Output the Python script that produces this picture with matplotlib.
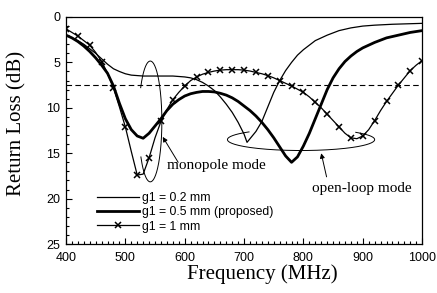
import numpy as np
import matplotlib
matplotlib.use("Agg")
import matplotlib.pyplot as plt

# Return loss curves (MHz, dB)
freq_a = [400, 410, 420, 430, 440, 450, 460, 470, 480, 490, 500, 510, 520, 530,
          540, 560, 580, 600, 610, 620, 630, 640, 650, 660, 670, 680, 690, 700,
          705, 710, 720, 730, 740, 750, 760, 770, 780, 790, 800, 820, 840, 860,
          880, 900, 920, 950, 1000]
rl_a = [2.0, 2.3, 2.6, 3.0, 3.5, 4.0, 4.6, 5.2, 5.7, 6.0, 6.25, 6.4, 6.45, 6.5,
        6.5, 6.5, 6.5, 6.6, 6.7, 6.9, 7.2, 7.6, 8.1, 8.8, 9.6, 10.5, 11.6, 12.9,
        13.8, 13.4, 12.6, 11.5, 9.9, 8.3, 7.0, 5.9, 5.0, 4.2, 3.6, 2.6, 2.0, 1.5,
        1.2, 1.0, 0.9, 0.8, 0.7]

freq_b = [400, 410, 420, 430, 440, 450, 460, 470, 480, 490, 500, 510, 520, 530,
          540, 550, 560, 570, 580, 590, 600, 610, 620, 630, 640, 650, 660, 670,
          680, 690, 700, 710, 720, 730, 740, 750, 760, 770, 780, 790, 800, 810,
          820, 830, 840, 850, 860, 870, 880, 890, 900, 920, 940, 960, 980, 1000]
rl_b = [2.0, 2.3, 2.7, 3.2, 3.8, 4.5, 5.3, 6.2, 7.6, 9.5, 11.2, 12.4, 13.1, 13.35,
        12.8, 12.0, 11.2, 10.3, 9.6, 9.1, 8.7, 8.45, 8.3, 8.2, 8.2, 8.25, 8.4, 8.6,
        8.9, 9.3, 9.8, 10.3, 10.9, 11.6, 12.4, 13.3, 14.3, 15.3, 16.0, 15.4, 14.2, 12.8,
        11.2, 9.6, 8.0, 6.7, 5.7, 4.9, 4.3, 3.8, 3.4, 2.8, 2.3, 2.0, 1.7, 1.5]

freq_c = list(range(400, 1001, 10))
rl_c = [1.3, 1.7, 2.1, 2.6, 3.1, 3.9, 4.9, 6.2, 7.8, 9.9, 12.1, 14.8, 17.4, 17.3,
        15.5, 13.3, 11.5, 10.2, 9.1, 8.3, 7.6, 7.0, 6.6, 6.3, 6.1, 5.95, 5.85, 5.8,
        5.8, 5.8, 5.85, 5.95, 6.1, 6.25, 6.45, 6.7, 7.0, 7.3, 7.6, 7.95, 8.3, 8.8,
        9.4, 10.0, 10.7, 11.4, 12.1, 12.8, 13.3, 13.4, 13.1, 12.4, 11.4, 10.3, 9.3,
        8.4, 7.5, 6.7, 5.9, 5.3, 4.8]

labels = ["g1 = 0.2 mm", "g1 = 0.5 mm (proposed)", "g1 = 1 mm"]

serif = "Liberation Serif"
sans = "Liberation Sans"

fig = plt.figure(figsize=(4.37, 2.93), dpi=100)
ax = fig.add_axes([0.151, 0.167, 0.815, 0.775])

ax.plot(freq_a, rl_a, color="k", lw=0.9, label=labels[0])
ax.plot(freq_b, rl_b, color="k", lw=2.0, label=labels[1])
ax.plot(freq_c, rl_c, color="k", lw=0.9, marker="x", ms=4.5, mew=1.1,
        markevery=2, label=labels[2])

ax.axhline(7.5, color="k", lw=0.8, ls=(0, (5, 3)))

# ellipses drawn as open outlines (gaps where the curves run through)
t = np.radians(np.linspace(214, 504, 200))
ax.plot(542 + 19.5 * np.cos(t), 11.5 + 6.65 * np.sin(t), color="k", lw=0.7)
t = np.radians(np.linspace(318, 585, 200))
ax.plot(796 + 124 * np.cos(t), 13.5 + 1.2 * np.sin(t), color="k", lw=0.7)

arrow = dict(arrowstyle="-|>", color="k", lw=0.7, mutation_scale=7,
             shrinkA=0, shrinkB=0)
ax.annotate("", xy=(563, 13.2), xytext=(589, 16.0), arrowprops=arrow)
ax.annotate("", xy=(830, 15.0), xytext=(839, 17.6), arrowprops=arrow)
ax.text(570, 16.3, "monopole mode", family=serif, fontsize=11, va="center")
ax.text(814, 18.9, "open-loop mode", family=serif, fontsize=11, va="center")

ax.set_xlim(400, 1000)
ax.set_ylim(25, 0)
ax.set_xticks(range(400, 1001, 100))
ax.set_xticks(range(400, 1001, 10), minor=True)
ax.set_yticks(range(0, 26, 5))
ax.set_yticks(range(0, 26, 1), minor=True)
ax.tick_params(which="both", direction="in", top=False, right=False,
               labelsize=9, width=0.8)
ax.tick_params(which="major", length=4)
ax.tick_params(which="minor", length=2)
ax.tick_params(axis="x", pad=6)
ax.tick_params(axis="y", pad=4)
for lab in ax.get_xticklabels() + ax.get_yticklabels():
    lab.set_family(sans)
for s in ax.spines.values():
    s.set_linewidth(0.9)

ax.set_xlabel("Frequency (MHz)", family=serif, fontsize=15)
ax.set_ylabel("Return Loss (dB)", family=serif, fontsize=15)
ax.xaxis.set_label_coords(0.551, -0.09)
ax.yaxis.set_label_coords(-0.11, 0.53)

ax.legend(loc="upper left", bbox_to_anchor=(0.087, 0.23), frameon=False,
          prop={"family": sans, "size": 8.8}, handlelength=3.4,
          handletextpad=0.25, labelspacing=0.2, borderpad=0, borderaxespad=0)

fig.savefig("out.png", dpi=100)
